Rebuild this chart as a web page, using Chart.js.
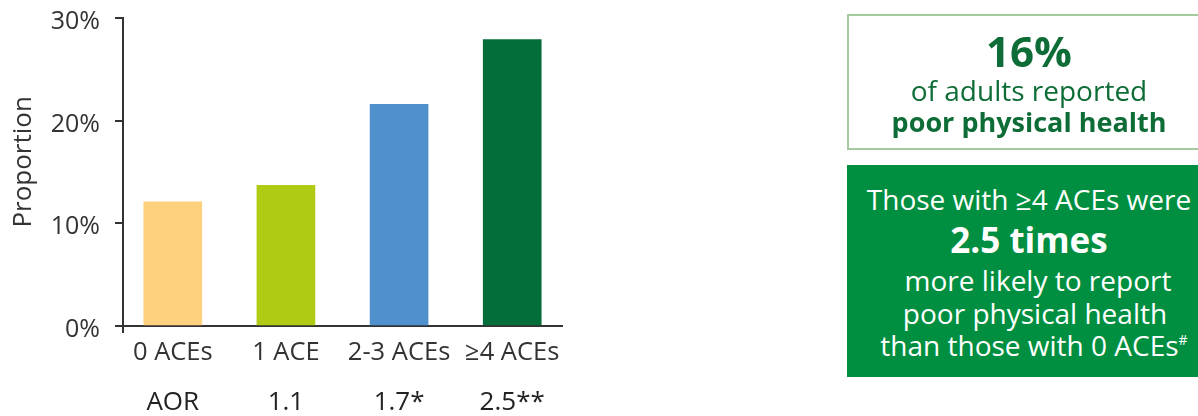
<!DOCTYPE html>
<html><head><meta charset="utf-8">
<script src="https://cdn.jsdelivr.net/npm/chart.js@4/dist/chart.umd.min.js"></script>
<style>
html,body{margin:0;padding:0;width:1198px;height:416px;overflow:hidden;background:#fff;font-family:"Open Sans",sans-serif;}
#c{position:absolute;left:0;top:0;}
.box1{position:absolute;left:847px;top:14px;width:360px;height:132px;border:2px solid #a5c99f;color:#0e6c36;text-align:center;}
.box2{position:absolute;left:847px;top:165px;width:364px;height:212px;background:#008f40;color:#fff;text-align:center;}
.l{white-space:nowrap;}
</style>
</head><body>
<canvas id="c" width="1198" height="416"></canvas>
<div class="box1">
  <div class="l" style="font-weight:700;font-size:42px;line-height:46px;margin-top:12px;">16%</div>
  <div class="l" style="font-size:28px;line-height:32px;">of adults reported</div>
  <div class="l" style="font-size:27px;line-height:32px;font-weight:700;">poor physical health</div>
</div>
<div class="box2">
  <div class="l" style="font-size:28px;line-height:33px;margin-top:18px;">Those with ≥4 ACEs were</div>
  <div class="l" style="font-size:35px;line-height:48px;font-weight:700;">2.5 times</div>
  <div class="l" style="font-size:28px;line-height:32.5px;padding-left:18px;">more likely to report</div>
  <div class="l" style="font-size:28px;line-height:32.5px;padding-left:12px;">poor physical health</div>
  <div class="l" style="font-size:28px;line-height:32.5px;padding-left:10px;">than those with 0 ACEs<sup style="font-size:14px;vertical-align:top;line-height:22px;">#</sup></div>
</div>
<script>
const categories = ['0 ACEs', '1 ACE', '2-3 ACEs', '≥4 ACEs'];
const proportions = [12.1, 13.7, 21.6, 27.9];
const aorLabels = ['AOR', '1.1', '1.7*', '2.5**'];
const barColors = ['#fdd17e', '#b1ca13', '#4f90cd', '#046e3b'];
const yTickValues = [0, 10, 20, 30];

const FONT = 'Open Sans';
const TXT = '#333333';

const aorPlugin = {
  id: 'aorRow',
  afterDraw(chart) {
    const ctx = chart.ctx, xs = chart.scales.x, bottom = chart.chartArea.bottom;
    ctx.save();
    ctx.font = '26px "' + FONT + '"';
    ctx.fillStyle = '#222222';
    ctx.textAlign = 'center';
    ctx.textBaseline = 'middle';
    aorLabels.forEach((t, i) => ctx.fillText(t, xs.getPixelForValue(i), bottom + 77));
    ctx.strokeStyle = TXT;
    ctx.lineWidth = 2;
    ctx.beginPath();
    ctx.moveTo(xs.left, bottom);
    ctx.lineTo(xs.left, bottom + 7);
    ctx.stroke();
    ctx.restore();
  }
};

new Chart(document.getElementById('c'), {
  type: 'bar',
  data: {
    datasets: [{
      data: proportions.map((v, i) => ({x: i, y: v})),
      backgroundColor: barColors,
      borderWidth: 0,
      barThickness: 58
    }]
  },
  options: {
    responsive: false,
    animation: false,
    layout: {padding: {left: 0, right: 636, top: 18, bottom: 0}},
    plugins: {legend: {display: false}, tooltip: {enabled: false}},
    scales: {
      x: {
        type: 'linear', min: -0.44, max: 3.44, offset: false,
        grid: {display: false, drawTicks: false},
        border: {display: true, color: TXT, width: 2},
        afterBuildTicks: s => { s.ticks = categories.map((c, i) => ({value: i})); },
        ticks: {callback: v => categories[v], font: {family: FONT, size: 25.5}, color: TXT, padding: 11, autoSkip: false, maxRotation: 0},
        afterFit: s => { s.height = 90; s.paddingLeft = 0; s.paddingRight = 0; }
      },
      y: {
        min: 0, max: 30,
        afterBuildTicks: s => { s.ticks = yTickValues.map(v => ({value: v})); },
        grid: {drawOnChartArea: false, drawTicks: true, tickLength: 8, color: TXT, lineWidth: 2},
        border: {display: true, color: TXT, width: 2},
        ticks: {callback: v => v + '%', font: {family: FONT, size: 25}, color: TXT, padding: 15, labelOffset: 4},
        title: {display: true, text: '   Proportion', font: {family: FONT, size: 26}, color: TXT, padding: {top: 8, bottom: 0}},
        afterFit: s => { s.width = 123; s.paddingTop = 0; s.paddingBottom = 0; }
      }
    }
  },
  plugins: [aorPlugin]
});
</script>
</body></html>
